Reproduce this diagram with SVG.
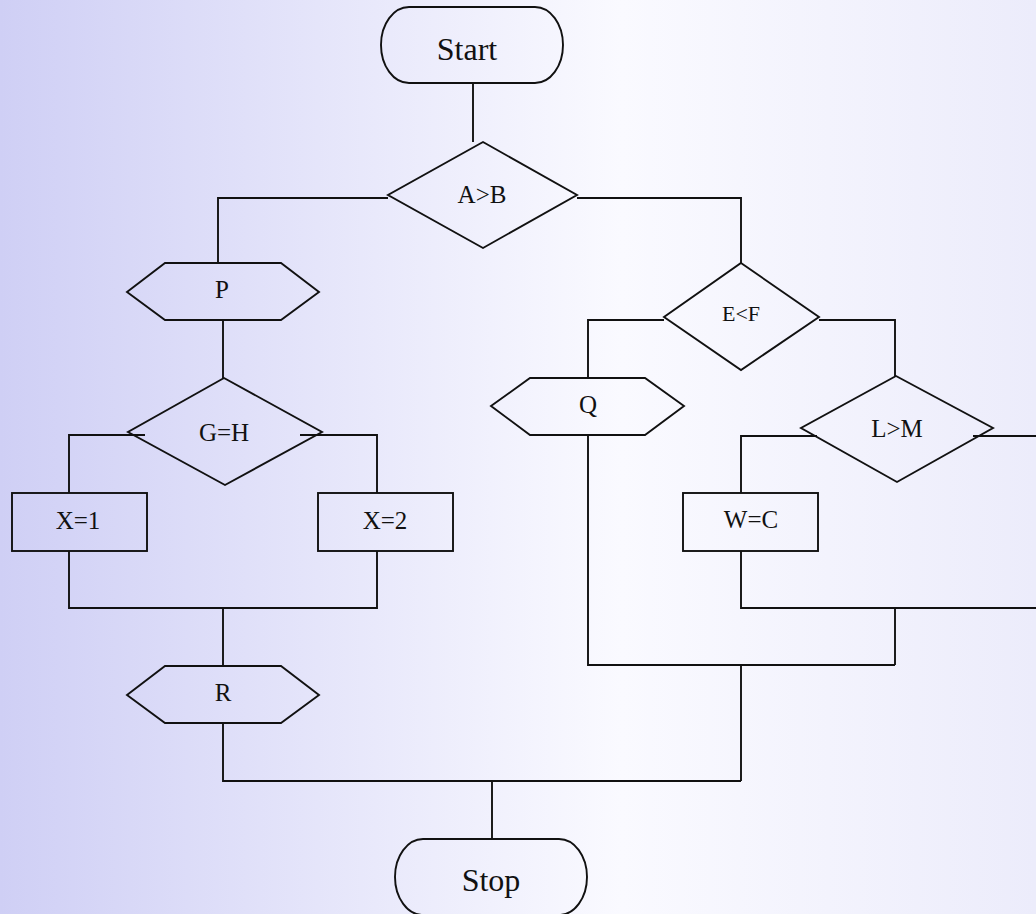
<svg xmlns="http://www.w3.org/2000/svg" width="1036" height="914" viewBox="0 0 1036 914">
  <defs>
    <linearGradient id="bg" x1="0" y1="0" x2="1" y2="0">
      <stop offset="0" stop-color="#cfcff5"/>
      <stop offset="0.6" stop-color="#fafaff"/>
      <stop offset="1" stop-color="#ececfb"/>
    </linearGradient>
  </defs>
  <style>
    .shape { fill: none; stroke: #111; stroke-width: 1.9; stroke-linejoin: miter; }
    .wire { fill: none; stroke: #111; stroke-width: 1.9; }
    text { font-family: "Liberation Serif", "Times New Roman", serif; font-size: 25px; fill: #111; text-anchor: middle; }
    .big { font-size: 32px; }
    .small { font-size: 22px; }
  </style>

  <rect x="0" y="0" width="1036" height="914" fill="url(#bg)"/>

  <!-- connectors -->
  <g id="connectors">
    <path class="wire" d="M473 83 V142"/>
    <path class="wire" d="M388 198 H218 V263"/>
    <path class="wire" d="M577 198 H741 V263"/>
    <path class="wire" d="M223 320 V378"/>
    <path class="wire" d="M145 435 H69 V493"/>
    <path class="wire" d="M300 435 H377 V493"/>
    <path class="wire" d="M69 551 V608 H377 V551"/>
    <path class="wire" d="M223 608 V666"/>
    <path class="wire" d="M223 723 V781 H741"/>
    <path class="wire" d="M492 781 V839"/>
    <path class="wire" d="M664 320 H588 V378"/>
    <path class="wire" d="M819 320 H895 V376"/>
    <path class="wire" d="M817 436 H741 V493"/>
    <path class="wire" d="M973 436 H1036"/>
    <path class="wire" d="M741 551 V608 H1036"/>
    <path class="wire" d="M895 608 V665"/>
    <path class="wire" d="M588 435 V665 H895"/>
    <path class="wire" d="M741 665 V781"/>
  </g>

  <g id="start">
    <rect class="shape" x="381" y="7" width="182" height="76" rx="28" ry="38"/>
    <text class="big" x="467" y="60">Start</text>
  </g>

  <g id="cond-ab">
    <polygon class="shape" points="483,142 577,195 483,248 388,195"/>
    <text x="482" y="203">A&gt;B</text>
  </g>

  <g id="io-p">
    <polygon class="shape" points="127,292 165,263 281,263 319,292 281,320 165,320"/>
    <text x="222" y="298">P</text>
  </g>

  <g id="cond-gh">
    <polygon class="shape" points="224,378 322,432 225,485 128,432"/>
    <text x="224" y="441">G=H</text>
  </g>

  <g id="set-x1">
    <rect class="shape" x="12" y="493" width="135" height="58"/>
    <text x="78" y="529">X=1</text>
  </g>

  <g id="set-x2">
    <rect class="shape" x="318" y="493" width="135" height="58"/>
    <text x="385" y="529">X=2</text>
  </g>

  <g id="io-r">
    <polygon class="shape" points="127,695 165,666 281,666 319,695 281,723 165,723"/>
    <text x="223" y="701">R</text>
  </g>

  <g id="cond-ef">
    <polygon class="shape" points="741,263 819,317 741,370 664,317"/>
    <text class="small" x="741" y="321">E&lt;F</text>
  </g>

  <g id="io-q">
    <polygon class="shape" points="491,406 530,378 645,378 684,406 645,435 530,435"/>
    <text x="588" y="413">Q</text>
  </g>

  <g id="cond-lm">
    <polygon class="shape" points="896,376 993,428 897,482 801,428"/>
    <text x="897" y="437">L&gt;M</text>
  </g>

  <g id="set-wc">
    <rect class="shape" x="683" y="493" width="135" height="58"/>
    <text x="751" y="528">W=C</text>
  </g>

  <g id="stop">
    <rect class="shape" x="395" y="839" width="192" height="76" rx="28" ry="38"/>
    <text class="big" x="491" y="891">Stop</text>
  </g>
</svg>
